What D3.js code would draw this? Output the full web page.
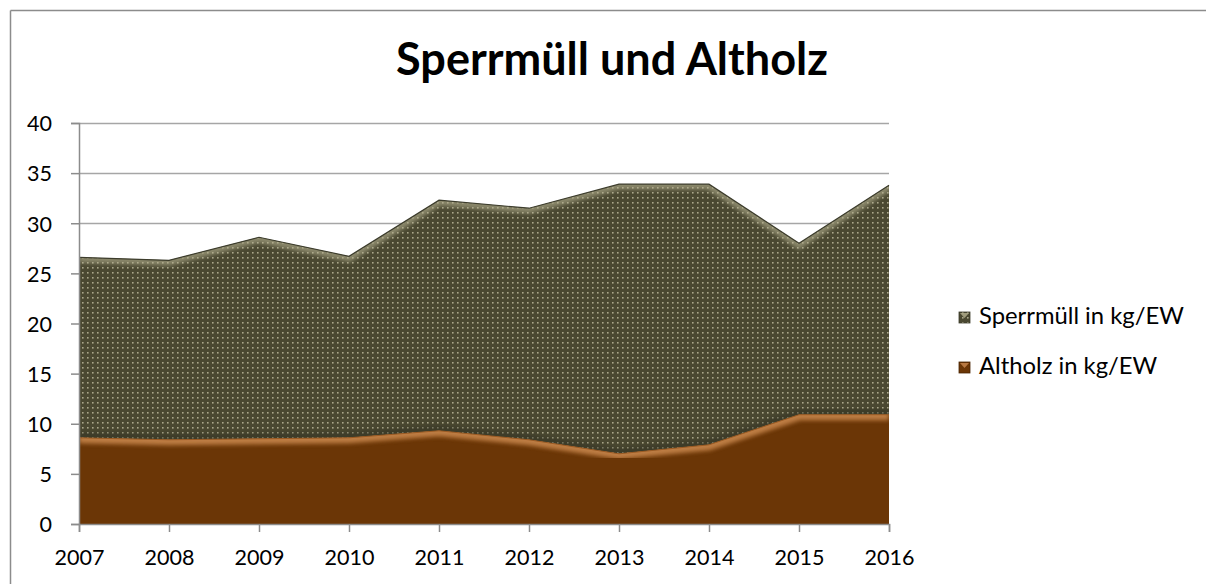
<!DOCTYPE html>
<html><head><meta charset="utf-8">
<script src="https://cdn.jsdelivr.net/npm/d3@7"></script>
<style>body{margin:0;background:#fff}svg{display:block}</style>
</head><body>
<script>
const years = [2007,2008,2009,2010,2011,2012,2013,2014,2015,2016];
const altholz = [8.6,8.4,8.5,8.6,9.3,8.4,7.0,7.9,10.9,10.9];
const sperrmuell = [18.0,17.9,20.1,18.1,23.0,23.1,26.9,26.0,17.1,22.9];
const yTicks = [0,5,10,15,20,25,30,35,40];
const seriesNames = ["Sperrmüll in kg/EW","Altholz in kg/EW"];
const title = "Sperrmüll und Altholz";

const W=1206,H=584;
const FONT="Lato, 'Open Sans', 'DejaVu Sans', sans-serif";
const svg=d3.select("body").append("svg").attr("width",W).attr("height",H);
const defs=svg.append("defs");

// outer border (top and left visible)
svg.append("line").attr("x1",10.5).attr("x2",W).attr("y1",10.5).attr("y2",10.5).attr("stroke","#8c8c8c").attr("stroke-width",1.5);
svg.append("line").attr("x1",10.5).attr("x2",10.5).attr("y1",10.5).attr("y2",H).attr("stroke","#8c8c8c").attr("stroke-width",1.5);

const x=d3.scaleLinear().domain([2007,2016]).range([79,889]);
const y=d3.scaleLinear().domain([0,40]).range([524,123]);

function fit(sel,target){
  const n=sel.node(); let fs=parseFloat(sel.attr("font-size"));
  const w=n.getComputedTextLength(); sel.attr("font-size",fs*target/w);
}

// gridlines
svg.append("g").selectAll("line").data(yTicks.filter(d=>d>0)).join("line")
  .attr("x1",x(2007)).attr("x2",x(2016)).attr("y1",d=>Math.round(y(d))+0.5).attr("y2",d=>Math.round(y(d))+0.5)
  .attr("stroke","#a6a6a6").attr("stroke-width",1.5);

// patterns
const pat=defs.append("pattern").attr("id","dots").attr("patternUnits","userSpaceOnUse").attr("width",5).attr("height",5);
pat.append("rect").attr("width",5).attr("height",5).attr("fill","#4a4831");
pat.append("rect").attr("x",2).attr("y",2).attr("width",1.6).attr("height",1.6).attr("fill","#aaa78a");

const blur=defs.append("filter").attr("id","blur").attr("x","-10%").attr("y","-10%").attr("width","120%").attr("height","120%");
blur.append("feGaussianBlur").attr("stdDeviation",2.2);

const data=years.map((yr,i)=>({year:yr,alt:altholz[i],sp:sperrmuell[i]}));
const stack=d3.stack().keys(["alt","sp"])(data);

const area=d3.area().x(d=>x(d.data.year)).y0(d=>y(d[0])).y1(d=>y(d[1]));
const topLine=d3.line().x(d=>x(d.data.year)).y(d=>y(d[1]));

stack.forEach((s,i)=>{
  defs.append("clipPath").attr("id","clip"+i).append("path").attr("d",area(s));
});

const gA=svg.append("g");
// Sperrmüll area
const sp=stack[1];
gA.append("path").attr("d",area(sp)).attr("fill","url(#dots)");
const gSpClip=gA.append("g").attr("clip-path","url(#clip1)");
gSpClip.append("path").attr("d",topLine(sp)).attr("fill","none").attr("stroke","#b4b090").attr("stroke-width",11).attr("opacity",0.6).attr("filter","url(#blur)");
gSpClip.append("path").attr("d",d3.line()(stack[0].map(d=>[x(d.data.year),y(d[1])-2]))).attr("fill","none").attr("stroke","#2e2e22").attr("stroke-width",6).attr("opacity",0.55).attr("filter","url(#blur)");
gSpClip.append("line").attr("x1",x(2016)).attr("x2",x(2016)).attr("y1",0).attr("y2",H).attr("stroke","#2a2a1e").attr("stroke-width",4).attr("opacity",0.6).attr("filter","url(#blur)");
gA.append("path").attr("d",topLine(sp)).attr("fill","none").attr("stroke","#3c3c2c").attr("stroke-width",1.2);

// Altholz area
const al=stack[0];
gA.append("path").attr("d",area(al)).attr("fill","#6b3606");
const gAlClip=gA.append("g").attr("clip-path","url(#clip0)");
gAlClip.append("path").attr("d",topLine(al)).attr("fill","none").attr("stroke","#cc8a50").attr("stroke-width",11).attr("opacity",0.85).attr("filter","url(#blur)");
gAlClip.append("line").attr("x1",x(2016)).attr("x2",x(2016)).attr("y1",0).attr("y2",H).attr("stroke","#3e1e02").attr("stroke-width",6).attr("opacity",0.7).attr("filter","url(#blur)");
gAlClip.append("line").attr("x1",x(2007)).attr("x2",x(2007)).attr("y1",0).attr("y2",H).attr("stroke","#4a2504").attr("stroke-width",4).attr("opacity",0.5).attr("filter","url(#blur)");
gAlClip.append("line").attr("x1",0).attr("x2",W).attr("y1",y(0)).attr("y2",y(0)).attr("stroke","#4a2504").attr("stroke-width",5).attr("opacity",0.6).attr("filter","url(#blur)");
gA.append("path").attr("d",topLine(al)).attr("fill","none").attr("stroke","#9a5a22").attr("stroke-width",1);

// axes
const axisColor="#8c8c8c";
const yAxis=svg.append("g").attr("transform",`translate(${x(2007)},0)`)
  .call(d3.axisLeft(y).tickValues(yTicks).tickSize(8).tickFormat(d3.format("d")));
yAxis.select(".domain").attr("stroke",axisColor).attr("stroke-width",1.5);
yAxis.selectAll(".tick line").attr("stroke",axisColor).attr("stroke-width",1.5);
yAxis.selectAll("text").attr("x",-27).attr("font-family",FONT).attr("font-size",20).attr("fill","#000").attr("dy","0.36em");

const xAxis=svg.append("g").attr("transform",`translate(0,${y(0)})`)
  .call(d3.axisBottom(x).tickValues(years).tickSize(8).tickFormat(d3.format("d")));
xAxis.select(".domain").attr("stroke",axisColor).attr("stroke-width",1.5);
xAxis.selectAll(".tick line").attr("stroke",axisColor).attr("stroke-width",1.5);
xAxis.selectAll("text").attr("font-family",FONT).attr("font-size",20).attr("fill","#000").attr("y",0).attr("dy",0).attr("transform","translate(0,41)");

{
  const t=xAxis.select(".tick text"); const w=t.node().getComputedTextLength();
  const fs=20*50/w;
  xAxis.selectAll("text").attr("font-size",fs);
  yAxis.selectAll("text").attr("font-size",fs);
}

// title
const tt=svg.append("text").attr("x",612).attr("y",75).attr("text-anchor","middle")
  .attr("font-family",FONT).attr("font-weight","bold").attr("font-size",40).attr("fill","#000").text(title);
fit(tt,432);

// legend
const legColors=[{fill:"url(#dots)",edge:"#b4b090"},{fill:"#6b3606",edge:"#cc8a50"}];
const legY=[317,367];
let legFs=20;
seriesNames.forEach((n,i)=>{
  const g=svg.append("g");
  g.append("rect").attr("x",959).attr("y",legY[i]-5).attr("width",11).attr("height",11).attr("fill",legColors[i].fill).attr("stroke",i==0?"#3c3c2c":"#4a2504").attr("stroke-width",0.8);
  g.append("path").attr("d",`M${960},${legY[i]-4} L${969},${legY[i]-4} L${964.5},${legY[i]+1} Z`).attr("fill",legColors[i].edge).attr("opacity",0.8);
  const t=g.append("text").attr("x",979).attr("y",legY[i]+7).attr("font-family",FONT).attr("font-size",legFs).attr("fill","#000").text(n);
  if(i==0){ fit(t,205); legFs=parseFloat(t.attr("font-size")); }
});
</script>
</body></html>
